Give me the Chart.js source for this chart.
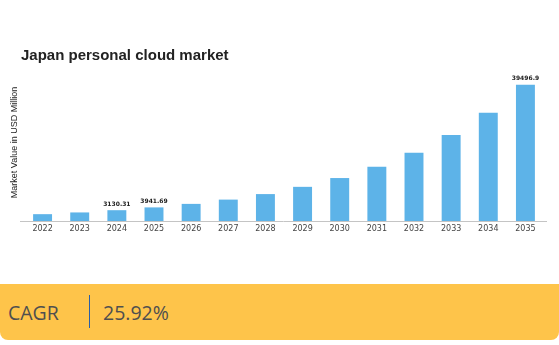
<!DOCTYPE html>
<html>
<head>
<meta charset="utf-8">
<script src="https://cdn.jsdelivr.net/npm/chart.js@4.4.1/dist/chart.umd.min.js"></script>
<style>
  html, body { margin: 0; padding: 0; background: #fff; }
  #wrap { position: relative; width: 559px; height: 345px; overflow: hidden; }
  #title {
    position: absolute; left: 21px; top: 46px;
    font: bold 15px "Liberation Sans", Arial, sans-serif; color: #222;
    white-space: nowrap;
  }
  #chartBox { position: absolute; left: 0; top: 0; width: 559px; height: 283px; }
  #cagr {
    position: absolute; left: 0; top: 284px; width: 559px; height: 56px;
    background: #fec44a; border-radius: 0 0 8px 8px;
    font-family: "Open Sans", sans-serif; color: #4f4f4f; font-size: 19.5px;
  }
  #cagr span { position: absolute; top: 50%; transform: translateY(-50%); white-space: nowrap; }
  #cagr .sep { position: absolute; left: 89px; top: 11px; width: 1px; height: 33px; background: #2a5fa8; }
</style>
</head>
<body>
<div id="wrap">
  <div id="chartBox"><canvas id="cloudChart"></canvas></div>
  <div id="title">Japan personal cloud market</div>
  <div id="cagr">
    <span style="left:8px">CAGR</span>
    <div class="sep"></div>
    <span style="left:103px">25.92%</span>
  </div>
</div>
<script>
// market size by year (USD million)
const years = ['2022', '2023', '2024', '2025', '2026', '2027', '2028',
               '2029', '2030', '2031', '2032', '2033', '2034', '2035'];
const marketValues = [1980, 2480, 3130.31, 3941.69, 4960, 6200, 7800,
                      9900, 12450, 15700, 19750, 24900, 31350, 39496.9];
// only these years get a value printed over the bar
const labelledYears = ['2024', '2025', '2035'];

const barLabels = {
    id: 'barLabels',
    beforeDatasetsDraw(chart) {
        // baseline runs a little past the first and last bar slots
        const { ctx, chartArea } = chart;
        ctx.save();
        ctx.strokeStyle = '#c4c4c4';
        ctx.lineWidth = 1;
        ctx.beginPath();
        ctx.moveTo(chartArea.left - 4, chartArea.bottom + 0.5);
        ctx.lineTo(chartArea.right + 3, chartArea.bottom + 0.5);
        ctx.stroke();
        ctx.restore();
    },
    afterDatasetsDraw(chart) {
        const ctx = chart.ctx;
        const meta = chart.getDatasetMeta(0);
        ctx.save();
        ctx.font = 'bold 6px "DejaVu Sans", sans-serif';
        ctx.fillStyle = '#222';
        ctx.textAlign = 'center';
        ctx.textBaseline = 'bottom';
        meta.data.forEach((bar, i) => {
            if (!labelledYears.includes(years[i])) return;
            ctx.fillText(String(marketValues[i]), bar.x, bar.y - 3);
        });
        ctx.restore();
    }
};

new Chart('cloudChart', {
    type: 'bar',
    data: {
        labels: years,
        datasets: [{
            label: 'Market Value',
            data: marketValues,
            backgroundColor: '#5db3e8',
            borderWidth: 0,
            categoryPercentage: 1,
            barPercentage: 0.51
        }]
    },
    options: {
        responsive: true,
        maintainAspectRatio: false,
        animation: false,
        layout: { padding: { top: 64, right: 15, bottom: 42, left: 0 } },
        plugins: {
            legend: { display: false },
            tooltip: { enabled: false }
        },
        scales: {
            x: {
                grid: { display: false, drawTicks: false },
                border: { display: false },
                ticks: {
                    color: '#444',
                    font: { family: '"DejaVu Sans", sans-serif', size: 8 },
                    padding: 3,
                    maxRotation: 0,
                    autoSkip: false
                },
                afterFit(scale) { scale.height = 20; }
            },
            y: {
                min: 0,
                max: 45500,
                grid: { display: false, drawTicks: false },
                border: { display: false },
                ticks: { display: false },
                title: {
                    display: true,
                    text: 'Market Value in USD Million',
                    color: '#222',
                    font: { family: '"Liberation Sans", Arial, sans-serif', size: 9 },
                    padding: { top: 9, bottom: 0 }
                },
                afterFit(scale) { scale.width = 24; }
            }
        }
    },
    plugins: [barLabels]
});
</script>
</body>
</html>
